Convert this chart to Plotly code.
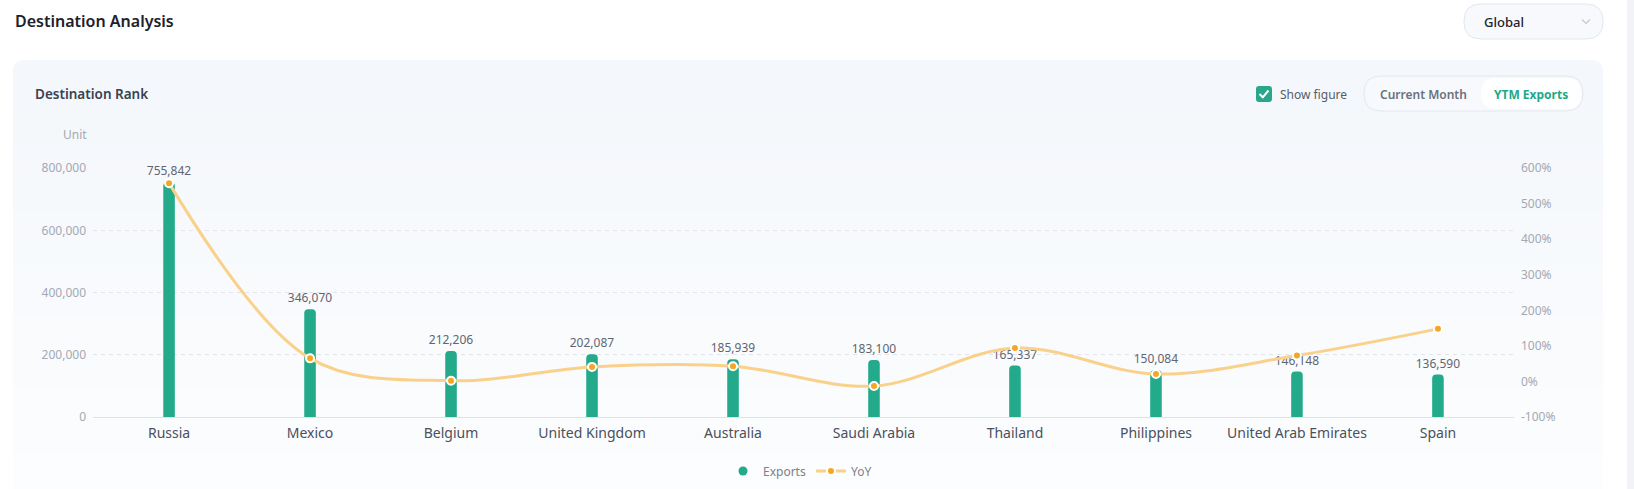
import plotly.graph_objects as go

# ---------------- data ----------------
countries = ["Russia", "Mexico", "Belgium", "United Kingdom", "Australia",
             "Saudi Arabia", "Thailand", "Philippines", "United Arab Emirates", "Spain"]
exports = [755842, 346070, 212206, 202087, 185939, 183100, 165337, 150084, 146148, 136590]
yoy = [558, 65, 2, 41, 43, -13, 94, 21, 73, 148]

left_ticks = [0, 200000, 400000, 600000, 800000]
right_ticks = [-100, 0, 100, 200, 300, 400, 500, 600]
right_labels = [f"{v}%" for v in right_ticks]

# ---------------- geometry helpers (pixel -> paper) ----------------
W, H = 1634, 489
L, R, T, B = 93, 1514, 168, 417


def px(x):
    return (x - L) / (R - L)


def py(y):
    return (B - y) / (B - T)


def rounded_path(x0, y0, x1, y1, r):
    pts = [
        ("M", [(x0 + r, y0)]),
        ("L", [(x1 - r, y0)]),
        ("Q", [(x1, y0), (x1, y0 + r)]),
        ("L", [(x1, y1 - r)]),
        ("Q", [(x1, y1), (x1 - r, y1)]),
        ("L", [(x0 + r, y1)]),
        ("Q", [(x0, y1), (x0, y1 - r)]),
        ("L", [(x0, y0 + r)]),
        ("Q", [(x0, y0), (x0 + r, y0)]),
    ]
    s = ""
    for cmd, ps in pts:
        s += cmd + " " + " ".join(f"{px(a):.5f},{py(b):.5f}" for a, b in ps) + " "
    return s + "Z"


FONT = "Noto Sans, sans-serif"

fig = go.Figure()

fig.add_trace(go.Bar(
    x=countries, y=exports,
    marker=dict(color="#22aa8a", line=dict(width=0), cornerradius=4),
    width=0.082,
    text=exports, texttemplate="%{y:,}", textposition="outside",
    constraintext="none",
    textfont=dict(size=12, color="#5f6672", family=FONT),
    cliponaxis=False, showlegend=False, hoverinfo="skip",
))

# legend entry for exports (circle symbol as in reference)
fig.add_trace(go.Scatter(
    x=[None], y=[None], mode="markers", name="Exports",
    marker=dict(color="#22aa8a", size=9, symbol="circle"),
))

fig.add_trace(go.Scatter(
    x=countries, y=yoy, yaxis="y2", name="YoY",
    mode="lines+markers",
    line=dict(color="#f9d18b", width=3, shape="spline", smoothing=1.0),
    marker=dict(color="#f5a623", size=8, line=dict(color="#ffffff", width=2)),
    cliponaxis=False, hoverinfo="skip",
))

# ---------------- background shapes ----------------
shapes = []
# scrollbar strip
shapes.append(dict(type="rect", xref="paper", yref="paper", layer="below",
                   x0=px(1627), x1=px(1634), y0=py(0), y1=py(489),
                   fillcolor="#f1f3f6", line=dict(width=0)))
# panel
shapes.append(dict(type="path", xref="paper", yref="paper", layer="below",
                   path=rounded_path(13, 60, 1603, 520, 12),
                   fillcolor="#f4f7fb", line=dict(width=0)))
# gradient bands inside the panel
n = 24
top_c = (244, 247, 251)
bot_c = (252, 253, 254)
y_start, y_end = 75, 489
for i in range(n):
    t = i / (n - 1)
    c = tuple(round(top_c[k] + (bot_c[k] - top_c[k]) * t) for k in range(3))
    ya = y_start + (y_end - y_start) * i / n
    yb = y_start + (y_end - y_start) * (i + 1) / n + 0.8
    shapes.append(dict(type="rect", xref="paper", yref="paper", layer="below",
                       x0=px(13), x1=px(1603), y0=py(ya), y1=py(yb),
                       fillcolor="rgb(%d,%d,%d)" % c, line=dict(width=0)))
# dropdown
shapes.append(dict(type="path", xref="paper", yref="paper", layer="below",
                   path=rounded_path(1464, 4, 1603, 39, 17),
                   fillcolor="#f7f9fc", line=dict(color="#e2e7ef", width=1)))
# chevron in dropdown
shapes.append(dict(type="path", xref="paper", yref="paper", layer="above",
                   path=f"M {px(1582):.5f},{py(19.5):.5f} L {px(1586):.5f},{py(23.5):.5f} L {px(1590):.5f},{py(19.5):.5f}",
                   line=dict(color="#c3c9d2", width=1.2)))
# checkbox
shapes.append(dict(type="path", xref="paper", yref="paper", layer="below",
                   path=rounded_path(1256, 86, 1272, 102, 3),
                   fillcolor="#2aa68a", line=dict(width=0)))
shapes.append(dict(type="path", xref="paper", yref="paper", layer="above",
                   path=f"M {px(1259.5):.5f},{py(94):.5f} L {px(1262.8):.5f},{py(97.3):.5f} L {px(1268.5):.5f},{py(90.5):.5f}",
                   line=dict(color="#ffffff", width=2)))
# toggle group
shapes.append(dict(type="path", xref="paper", yref="paper", layer="below",
                   path=rounded_path(1364, 76, 1583, 111, 17),
                   fillcolor="#f7f9fc", line=dict(color="#e3e8ef", width=1)))
shapes.append(dict(type="path", xref="paper", yref="paper", layer="below",
                   path=rounded_path(1481, 78, 1581, 109, 15),
                   fillcolor="#ffffff", line=dict(width=0)))

# ---------------- text annotations ----------------
annotations = [
    dict(text="Destination Analysis", x=px(13), y=py(21), xanchor="left", yanchor="middle",
         font=dict(size=16, color="#1d2129", family=FONT, weight=600)),
    dict(text="Destination Rank", x=px(33), y=py(94), xanchor="left", yanchor="middle",
         font=dict(size=13.5, color="#3b4250", family=FONT, weight=600)),
    dict(text="Unit", x=px(89), y=py(134), xanchor="right", yanchor="middle",
         font=dict(size=12, color="#a3a9b4", family=FONT)),
    dict(text="Global", x=px(1482), y=py(22), xanchor="left", yanchor="middle",
         font=dict(size=13, color="#1d2129", family=FONT, weight=500)),
    dict(text="Show figure", x=px(1278), y=py(94), xanchor="left", yanchor="middle",
         font=dict(size=12, color="#555c69", family=FONT)),
    dict(text="Current Month", x=px(1423), y=py(94), xanchor="center", yanchor="middle",
         font=dict(size=12, color="#6b717c", family=FONT, weight=600)),
    dict(text="YTM Exports", x=px(1531), y=py(94), xanchor="center", yanchor="middle",
         font=dict(size=12, color="#1ea886", family=FONT, weight=700)),
]
for a in annotations:
    a.update(xref="paper", yref="paper", showarrow=False)

fig.update_layout(
    width=W, height=H,
    margin=dict(l=L, r=W - R, t=T, b=H - B, pad=0),
    paper_bgcolor="#ffffff",
    plot_bgcolor="rgba(0,0,0,0)",
    font=dict(family=FONT, color="#4e5461"),
    bargap=0.5,
    showlegend=True,
    legend=dict(orientation="h", xref="paper", x=px(800), xanchor="center",
                yref="container", y=1 - 471 / H, yanchor="middle",
                font=dict(size=12, color="#7b818c", family=FONT),
                bgcolor="rgba(0,0,0,0)", itemwidth=30, traceorder="normal"),
    xaxis=dict(showline=True, linecolor="#dfe3e9", linewidth=1, ticks="",
               showgrid=False, zeroline=False, ticklabelstandoff=3,
               tickfont=dict(size=14, color="#4a505c", family=FONT)),
    yaxis=dict(range=[0, 800000 * 1.0008], tickvals=left_ticks, tickformat=",",
               showgrid=True, gridcolor="#e1e5eb", griddash="4px,4px", gridwidth=1,
               zeroline=False, showline=False, ticks="", ticklabelstandoff=6,
               tickfont=dict(size=12, color="#a3a9b4", family=FONT)),
    yaxis2=dict(range=[-100, 600 + 700 * 0.0008], tickvals=right_ticks, ticktext=right_labels,
                overlaying="y", side="right", showgrid=False, zeroline=False,
                showline=False, ticks="", ticklabelstandoff=6,
                tickfont=dict(size=12, color="#a3a9b4", family=FONT)),
    shapes=shapes,
    annotations=annotations,
    hovermode=False,
)

fig.write_html(
    "out.html",
    config={"displayModeBar": False, "displaylogo": False},
    post_script="document.body.style.margin='0';document.body.style.overflow='hidden';",
)
